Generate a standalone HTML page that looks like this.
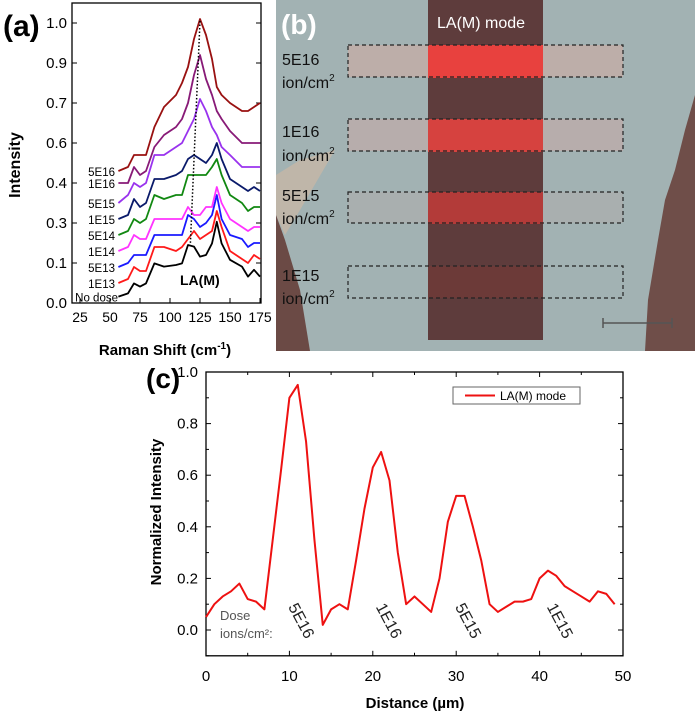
<!DOCTYPE html>
<html><head><meta charset="utf-8"><style>
html,body{margin:0;padding:0;background:#fff;}
svg{display:block;font-family:"Liberation Sans",Arial,sans-serif;}
</style></head><body>
<svg id="fig" width="697" height="716" viewBox="0 0 697 716">
 <g id="pa"></g>
 <g id="pb">
  <rect x="276" y="0" width="419" height="351" fill="#a2b2b3"/>
  <polygon points="276,215 285,240 300,290 310,351 276,351" fill="#6b4a45"/>
  <polygon points="276,175 300,160 335,150 300,210 285,235 276,215" fill="#d7b9a0" opacity="0.55"/>
  <polygon points="695,95 685,130 675,170 665,200 658,240 648,300 645,351 695,351" fill="#6f4e49"/>
  <rect x="348" y="45" width="275" height="32" fill="#c9aca5" opacity="0.7"/>
  <rect x="348" y="119" width="275" height="32" fill="#c4aaa6" opacity="0.6"/>
  <rect x="348" y="192" width="275" height="31" fill="#b4aaaa" opacity="0.4"/>
  <rect x="428" y="0" width="115" height="340" fill="#5e3c3c"/>
  <rect x="428" y="45" width="115" height="33" fill="#e8413e"/>
  <rect x="428" y="119" width="115" height="33" fill="#d6423f"/>
  <rect x="428" y="192" width="115" height="32" fill="#b33b39"/>
  <rect x="428" y="266" width="115" height="32" fill="#6c3a38"/>
  <g fill="none" stroke="#222" stroke-width="1.2" stroke-dasharray="4,3">
   <rect x="348" y="45" width="275" height="32"/>
   <rect x="348" y="119" width="275" height="32"/>
   <rect x="348" y="192" width="275" height="31"/>
   <rect x="348" y="266" width="275" height="32"/>
  </g>
  <g stroke="#555" stroke-width="1.5"><line x1="603" y1="323" x2="672" y2="323"/><line x1="603" y1="318" x2="603" y2="328"/><line x1="672" y1="318" x2="672" y2="328"/></g>
  <text x="281" y="34" font-size="28" font-weight="bold" fill="#fff">(b)</text>
  <text x="437" y="28" font-size="16" fill="#fff">LA(M) mode</text>
  <g font-size="16" fill="#111">
   <text x="282" y="65">5E16</text><text x="282" y="88">ion/cm<tspan font-size="10" dy="-7">2</tspan></text>
   <text x="282" y="137">1E16</text><text x="282" y="161">ion/cm<tspan font-size="10" dy="-7">2</tspan></text>
   <text x="282" y="201">5E15</text><text x="282" y="224">ion/cm<tspan font-size="10" dy="-7">2</tspan></text>
   <text x="282" y="281">1E15</text><text x="282" y="304">ion/cm<tspan font-size="10" dy="-7">2</tspan></text>
  </g>
 </g>
 <g id="pc"></g>
</svg>
<script>
// ---- Panel (a) data ----
const ramanX = [57,65,70,75,80,87,95,105,110,115,120,125,130,135,139,143,150,160,165,170,175];
const doseNames = ["No dose","1E13","5E13","1E14","5E14","1E15","5E15","1E16","5E16"];
const doseColors = ["#000000","#ff1a1a","#1a1aff","#ff33ff","#118811","#0a1a6a","#9933ee","#881a77","#991111"];
const sNoDose = [.016,.024,.049,.041,.049,.099,.091,.095,.099,.145,.141,.116,.12,.149,.203,.149,.108,.091,.066,.083,.066];
const s1E13 = [.05,.06,.09,.08,.08,.14,.14,.13,.14,.16,.18,.16,.17,.18,.23,.19,.13,.11,.10,.12,.11];
const s5E13 = [.09,.10,.12,.12,.12,.17,.17,.17,.17,.22,.21,.19,.20,.22,.27,.21,.17,.16,.14,.15,.15];
const s1E14 = [.13,.14,.17,.16,.16,.21,.21,.21,.21,.24,.22,.22,.24,.24,.29,.25,.21,.19,.18,.19,.19];
const s5E14 = [.17,.18,.21,.20,.21,.27,.26,.27,.27,.32,.32,.32,.32,.34,.36,.32,.27,.25,.23,.24,.24];
const s1E15 = [.21,.22,.26,.24,.25,.31,.31,.32,.33,.36,.37,.36,.35,.37,.40,.36,.31,.29,.28,.29,.28];
const s5E15 = [.25,.27,.30,.29,.30,.37,.37,.39,.40,.43,.46,.51,.48,.44,.42,.39,.37,.34,.34,.34,.34];
const s1E16 = [.30,.30,.34,.32,.33,.39,.42,.44,.46,.50,.57,.62,.56,.52,.48,.46,.43,.40,.40,.40,.40];
const s5E16 = [.33,.34,.37,.37,.37,.44,.49,.52,.55,.59,.66,.71,.67,.61,.54,.52,.50,.48,.48,.49,.50];
const ramanSeries = [sNoDose,s1E13,s5E13,s1E14,s5E14,s1E15,s5E15,s1E16,s5E16];
const aXTicks = [25,50,75,100,125,150,175];
const aYTickLabels = ["0.0","0.1","0.3","0.4","0.6","0.7","0.9","1.0"];
// ---- Panel (c) data ----
const distX = [0,1,2,3,4,5,6,7,8,9,10,11,12,13,14,15,16,17,18,19,20,21,22,23,24,25,26,27,28,29,30,31,32,33,34,35,36,37,38,39,40,41,42,43,44,45,46,47,48,49];
const laIntensity = [.05,.10,.13,.15,.18,.12,.11,.08,.35,.62,.90,.95,.73,.35,.02,.08,.10,.08,.27,.47,.63,.69,.58,.30,.10,.13,.10,.07,.20,.42,.52,.52,.40,.27,.10,.07,.09,.11,.11,.12,.20,.23,.21,.17,.15,.13,.11,.15,.14,.10];
const cXTicks = [0,10,20,30,40,50];
const cYTicks = [0,0.2,0.4,0.6,0.8,1.0];
const doseLabels = ["5E16","1E16","5E15","1E15"];
const doseLabelX = [11.5,22,31.5,42.5];

const NS="http://www.w3.org/2000/svg";
function mk(parent,tag,attrs,text){const e=document.createElementNS(NS,tag);for(const k in attrs)e.setAttribute(k,attrs[k]);if(text!==undefined)e.textContent=text;parent.appendChild(e);return e;}

// Panel a
const pa=document.getElementById('pa');
const ax=v=>80+(v-25)*1.2, ay=d=>303-d*400;
let e;
e=mk(pa,'rect',{x:72,y:3,width:189,height:300,fill:'none',stroke:'#000','stroke-width':1.3});


aXTicks.forEach(t=>{
 mk(pa,'line',{x1:ax(t),y1:303,x2:ax(t),y2:298,stroke:'#000'});
 e=mk(pa,'text',{x:ax(t),y:322,'font-size':14,'text-anchor':'middle'},t);
 
 
});
aYTickLabels.forEach((l,i)=>{
 mk(pa,'line',{x1:72,y1:ay(i*0.1),x2:77,y2:ay(i*0.1),stroke:'#000'});
 mk(pa,'line',{x1:261,y1:ay(i*0.1),x2:256,y2:ay(i*0.1),stroke:'#000'});
 e=mk(pa,'text',{x:67,y:ay(i*0.1)+5,'font-size':15,'text-anchor':'end'},l);
 
 
});
ramanSeries.forEach((s,i)=>{
 const pts=ramanX.map((x,j)=>ax(x)+','+ay(s[j])).join(' ');
 e=mk(pa,'polyline',{points:pts,fill:'none',stroke:doseColors[i],'stroke-width':1.8,'stroke-linejoin':'round'});
 
 
 e=mk(pa,'text',{x:i===0?118:115,y:ay(s[0])+5,'font-size':11.5,'text-anchor':'end'},doseNames[i]);
 
 
});
e=mk(pa,'line',{x1:ax(125),y1:ay(0.705),x2:ax(117),y2:ay(0.15),stroke:'#000','stroke-dasharray':'1.5,2','stroke-width':1.5});


e=mk(pa,'text',{x:180,y:285,'font-size':14,'font-weight':'bold'},'LA(M)');


e=mk(pa,'text',{x:3,y:36,'font-size':30,'font-weight':'bold'},'(a)');


e=mk(pa,'text',{x:0,y:0,'font-size':16,'font-weight':'bold','text-anchor':'middle',transform:'translate(20,165) rotate(-90)'},'Intensity');


e=mk(pa,'text',{x:165,y:355,'font-size':15,'font-weight':'bold','text-anchor':'middle'});
e.innerHTML='Raman Shift (cm<tspan font-size="10" dy="-6">-1</tspan><tspan dy="6">)</tspan>';



// Panel c
const pc=document.getElementById('pc');
const cx=v=>206+v*(417/50), cy=v=>630-v*258;
e=mk(pc,'rect',{x:206,y:cy(1.0),width:417,height:cy(-0.1)-cy(1.0),fill:'none',stroke:'#000','stroke-width':1.3});


for(let v=0;v<=50;v+=5){const L=v%10===0?5:3;
 mk(pc,'line',{x1:cx(v),y1:cy(-0.1),x2:cx(v),y2:cy(-0.1)-L,stroke:'#000'});
 mk(pc,'line',{x1:cx(v),y1:cy(1.0),x2:cx(v),y2:cy(1.0)+L,stroke:'#000'});}
for(let k=-1;k<=10;k++){const v=k/10;const L=k%2===0?5:3;
 mk(pc,'line',{x1:206,y1:cy(v),x2:206+L,y2:cy(v),stroke:'#000'});
 mk(pc,'line',{x1:623,y1:cy(v),x2:623-L,y2:cy(v),stroke:'#000'});}
cXTicks.forEach(t=>{
 e=mk(pc,'text',{x:cx(t),y:681,'font-size':15,'text-anchor':'middle'},t);
 
 
});
cYTicks.forEach(t=>{
 e=mk(pc,'text',{x:198,y:cy(t)+5,'font-size':15,'text-anchor':'end'},t.toFixed(1));
 
 
});
e=mk(pc,'polyline',{points:distX.map((x,j)=>cx(x)+','+cy(laIntensity[j])).join(' '),fill:'none',stroke:'#ee1111','stroke-width':2,'stroke-linejoin':'round'});


doseLabels.forEach((l,i)=>{
 e=mk(pc,'text',{x:0,y:0,'font-size':16,fill:'#222',transform:'translate('+(cx(doseLabelX[i])-14)+','+(cy(0.09))+') rotate(62)'},l);
 
 
});
e=mk(pc,'text',{x:220,y:620,'font-size':13,fill:'#555'},'Dose');


e=mk(pc,'text',{x:220,y:638,'font-size':13,fill:'#555'},'ions/cm²:');


const lg=mk(pc,'g',{});


mk(lg,'rect',{x:453,y:387,width:127,height:17,fill:'#fff',stroke:'#666'});
mk(lg,'line',{x1:465,y1:395.5,x2:495,y2:395.5,stroke:'#ee1111','stroke-width':2});
mk(lg,'text',{x:500,y:400,'font-size':12},'LA(M) mode');
e=mk(pc,'text',{x:146,y:388,'font-size':28,'font-weight':'bold'},'(c)');


e=mk(pc,'text',{x:0,y:0,'font-size':15,'font-weight':'bold','text-anchor':'middle',transform:'translate(161,512) rotate(-90)'},'Normalized Intensity');


e=mk(pc,'text',{x:415,y:708,'font-size':15,'font-weight':'bold','text-anchor':'middle'},'Distance (µm)');


</script>
</body></html>
